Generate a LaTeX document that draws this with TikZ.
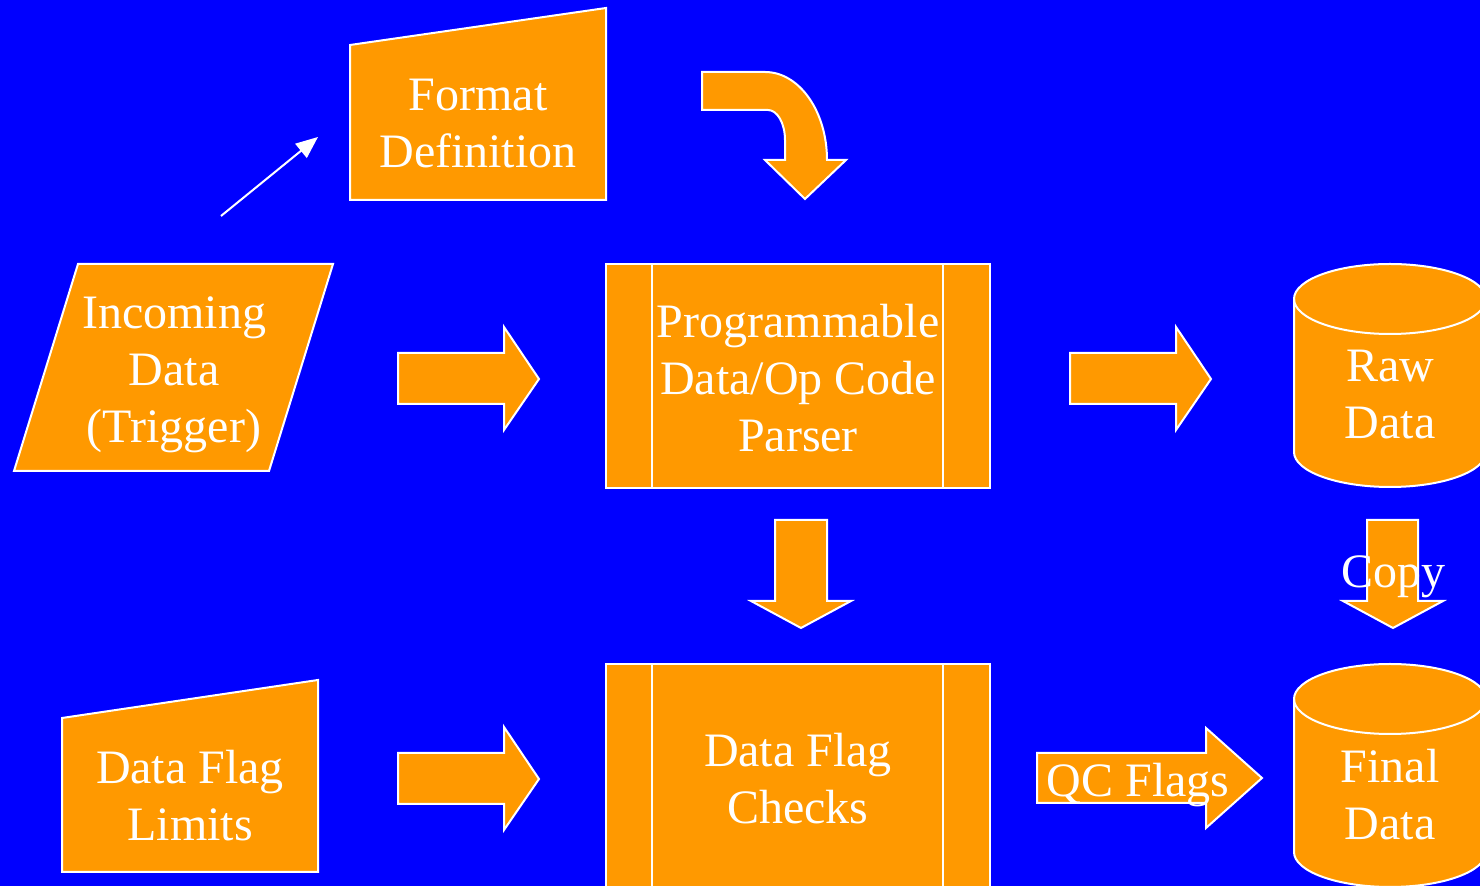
\documentclass[tikz,border=0pt]{standalone}
\usepackage{fontspec}
\setmainfont{Liberation Serif}
\usetikzlibrary{arrows.meta}
\definecolor{bg}{HTML}{0000FF}
\definecolor{orng}{HTML}{FF9900}
\begin{document}
\begin{tikzpicture}[x=0.5pt,y=-0.5pt,
  blk/.style={fill=orng,draw=white,line width=1pt,line join=miter},
  lbl/.style={text=white,align=center,font=\fontsize{24}{28.5}\selectfont,inner sep=0pt}]
\useasboundingbox (0,0) rectangle (1480,886);
\clip (0,0) rectangle (1480,886);
\fill[bg] (0,0) rectangle (1480,886);

% Format Definition (manual input)
\path[blk] (350,45) -- (606,8) -- (606,200) -- (350,200) -- cycle;
\node[lbl] (fmt) at (478,124) {Format\\Definition};

% Incoming Data (parallelogram)
\path[blk] (78,264) -- (333,264) -- (269,471) -- (14,471) -- cycle;
\node[lbl] (inc) at (174,375) {Incoming\\Data\\(Trigger)};

% Data Flag Limits (manual input)
\path[blk] (62,718) -- (318,680) -- (318,872) -- (62,872) -- cycle;
\node[lbl] (lim) at (190,796) {Data Flag\\Limits};

% Parser (predefined process)
\path[blk] (606,264) rectangle (990,488);
\draw[white,line width=1pt] (652,264) -- (652,488) (943,264) -- (943,488);
\node[lbl] (prs) at (798,378) {Programmable\\Data/Op Code\\Parser};

% Checks (predefined process)
\path[blk] (606,664) rectangle (990,900);
\draw[white,line width=1pt] (652,664) -- (652,900) (943,664) -- (943,900);
\node[lbl] (chk) at (798,779) {Data Flag\\Checks};

% Raw Data cylinder
\path[blk] (1294,299) -- (1294,452) arc[start angle=180,end angle=360,x radius=48pt,y radius=17.5pt]
  -- (1486,299) arc[start angle=0,end angle=180,x radius=48pt,y radius=17.5pt] -- cycle;
\draw[white,line width=1pt] (1294,299) arc[start angle=180,end angle=360,x radius=48pt,y radius=17.5pt];
\node[lbl] (raw) at (1390,395) {Raw\\Data};

% Final Data cylinder
\path[blk] (1294,699) -- (1294,852) arc[start angle=180,end angle=360,x radius=48pt,y radius=17.5pt]
  -- (1486,699) arc[start angle=0,end angle=180,x radius=48pt,y radius=17.5pt] -- cycle;
\draw[white,line width=1pt] (1294,699) arc[start angle=180,end angle=360,x radius=48pt,y radius=17.5pt];
\node[lbl] (fin) at (1390,795) {Final\\Data};

% thin arrow
\coordinate (ta) at (221,216);
\coordinate (tb) at (318,137);
\draw[white,line width=1pt,-{Triangle[length=11pt,width=9pt]}] (ta) -- (tb);

% curved arrow
\path[blk] (702,72) -- (765,72) arc[start angle=90,end angle=0,x radius=31pt,y radius=44pt]
  -- (846,160) -- (805,199) -- (765,160) -- (785,160) -- (785,140)
  arc[start angle=0,end angle=90,x radius=8.5pt,y radius=15pt] -- (702,110) -- cycle;

% right block arrows
\path[blk] (398,353) -- (504,353) -- (504,327) -- (539,379) -- (504,430) -- (504,404) -- (398,404) -- cycle;
\path[blk] (1070,353) -- (1176,353) -- (1176,327) -- (1211,379) -- (1176,430) -- (1176,404) -- (1070,404) -- cycle;
\path[blk] (398,753) -- (504,753) -- (504,727) -- (539,779) -- (504,830) -- (504,804) -- (398,804) -- cycle;

% down arrows
\path[blk] (775,520) -- (827,520) -- (827,601) -- (851,601) -- (801,628) -- (751,601) -- (775,601) -- cycle;
\path[blk] (1367,520) -- (1418,520) -- (1418,601) -- (1443,601) -- (1393,628) -- (1343,601) -- (1367,601) -- cycle;
\node[lbl] (cpy) at (1393,577) {Copy};

% QC Flags arrow
\path[blk] (1037,753) -- (1206,753) -- (1206,728) -- (1262,778) -- (1206,828) -- (1206,803) -- (1037,803) -- cycle;
\node[lbl] (qc) at (1138,785) {QC Flags};
\end{tikzpicture}
\end{document}
